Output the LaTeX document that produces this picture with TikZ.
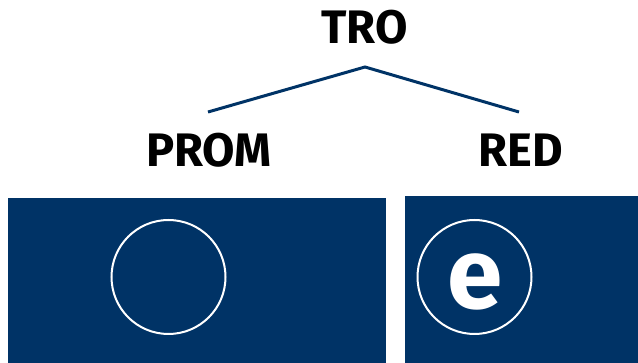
\documentclass[tikz,border=0pt]{standalone}
\usepackage{fontspec}
\setmainfont{Fira Sans}
\definecolor{navy}{RGB}{0,51,102}
\begin{document}
\begin{tikzpicture}[x=1pt,y=-1pt,
  lbl/.style={font=\fontsize{47}{47}\selectfont\bfseries, inner sep=0pt, text=black},
  panel/.style={fill=navy, draw=none},
  ring/.style={circle, draw=white, line width=2pt, minimum size=114pt, inner sep=0pt},
  branch/.style={draw=navy, line width=3pt}]
\useasboundingbox (0,0) rectangle (638,363);
\node[lbl] (tro) at (364.5,27.5) {TRO};
\node[lbl] (prom) at (209,150.5) {PROM};
\node[lbl] (red) at (520.5,150.5) {RED};
\coordinate (apex) at (365,67);
\coordinate (lend) at (208,112);
\coordinate (rend) at (519,112);
\draw[branch] (lend) -- (apex) -- (rend);
\fill[panel] (8,198) rectangle (386,363);
\fill[panel] (405,196) rectangle (638,363);
\node[ring] (c1) at (168.5,277) {};
\node[ring] (c2) at (474.5,277) {};
\node[font=\fontsize{100}{100}\selectfont\bfseries, text=white, inner sep=0pt] (e) at (475.5,281.5) {e};
\end{tikzpicture}
\end{document}
